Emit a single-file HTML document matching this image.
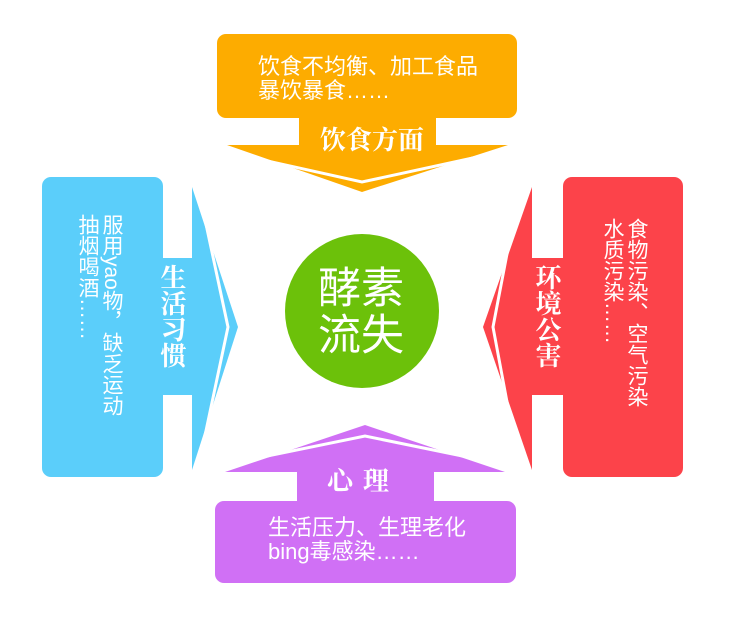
<!DOCTYPE html>
<html><head><meta charset="utf-8"><style>
body{margin:0;background:#fff;width:730px;height:640px;overflow:hidden;position:relative;font-family:"Liberation Sans","Noto Sans CJK SC",sans-serif;color:#fff}
.t{position:absolute;white-space:nowrap}
.v{writing-mode:vertical-rl}
</style></head><body>
<svg width="730" height="640" style="position:absolute;left:0;top:0">
<rect x="217" y="34" width="300" height="84" rx="9" fill="#fdac00"/>
<rect x="299" y="110" width="137" height="40" fill="#fdac00"/>
<polygon points="227,145 508,145 362,192" fill="#fdac00"/>
<polyline points="245,156 362,182 482,156" fill="none" stroke="#fff" stroke-width="3"/>
<rect x="42" y="177" width="121" height="300" rx="9" fill="#5bcefa"/>
<rect x="155" y="258" width="40" height="137" fill="#5bcefa"/>
<polygon points="192,187 238,327 192,470" fill="#5bcefa"/>
<polyline points="203,210 228,327 203,445" fill="none" stroke="#fff" stroke-width="3"/>
<rect x="563" y="177" width="120" height="300" rx="9" fill="#fc434a"/>
<rect x="530" y="258" width="40" height="137" fill="#fc434a"/>
<polygon points="532,187 483,327 532,470" fill="#fc434a"/>
<polyline points="515,212 493,327 515,445" fill="none" stroke="#fff" stroke-width="3"/>
<rect x="215" y="501" width="301" height="82" rx="9" fill="#d070f5"/>
<rect x="297" y="466" width="137" height="40" fill="#d070f5"/>
<polygon points="225,472 505,472 365,425" fill="#d070f5"/>
<polyline points="248,460 365,436 482,460" fill="none" stroke="#fff" stroke-width="3"/>
<circle cx="362" cy="311" r="77" fill="#6cc10a"/>
</svg>
<div class="t" style="left:258px;top:55px;font-size:22px;line-height:24px">饮食不均衡、加工食品<br>暴饮暴食……</div>
<div class="t" style="left:320px;top:120px;font-size:26px;font-family:'Noto Serif CJK SC',serif;font-weight:bold">饮食方面</div>
<div class="t v" style="left:75px;top:214px;font-size:21px;line-height:24px">服用yao物，缺乏运动<br>抽烟喝酒……</div>
<div class="t v" style="left:158px;top:264px;font-size:26px;font-family:'Noto Serif CJK SC',serif;font-weight:bold;line-height:30px">生活习惯</div>
<div class="t v" style="left:600px;top:218px;font-size:21px;line-height:24px">食物污染、空气污染<br>水质污染……</div>
<div class="t v" style="left:533px;top:264px;font-size:26px;font-family:'Noto Serif CJK SC',serif;font-weight:bold;line-height:30px">环境公害</div>
<div class="t" style="left:327px;top:461px;font-size:26px;font-family:'Noto Serif CJK SC',serif;font-weight:bold;letter-spacing:10px">心理</div>
<div class="t" style="left:268px;top:516px;font-size:22px;line-height:24px">生活压力、生理老化<br>bing毒感染……</div>
<div class="t" style="left:318px;top:266px;font-size:43px;line-height:47px">酵素<br>流失</div>
</body></html>
